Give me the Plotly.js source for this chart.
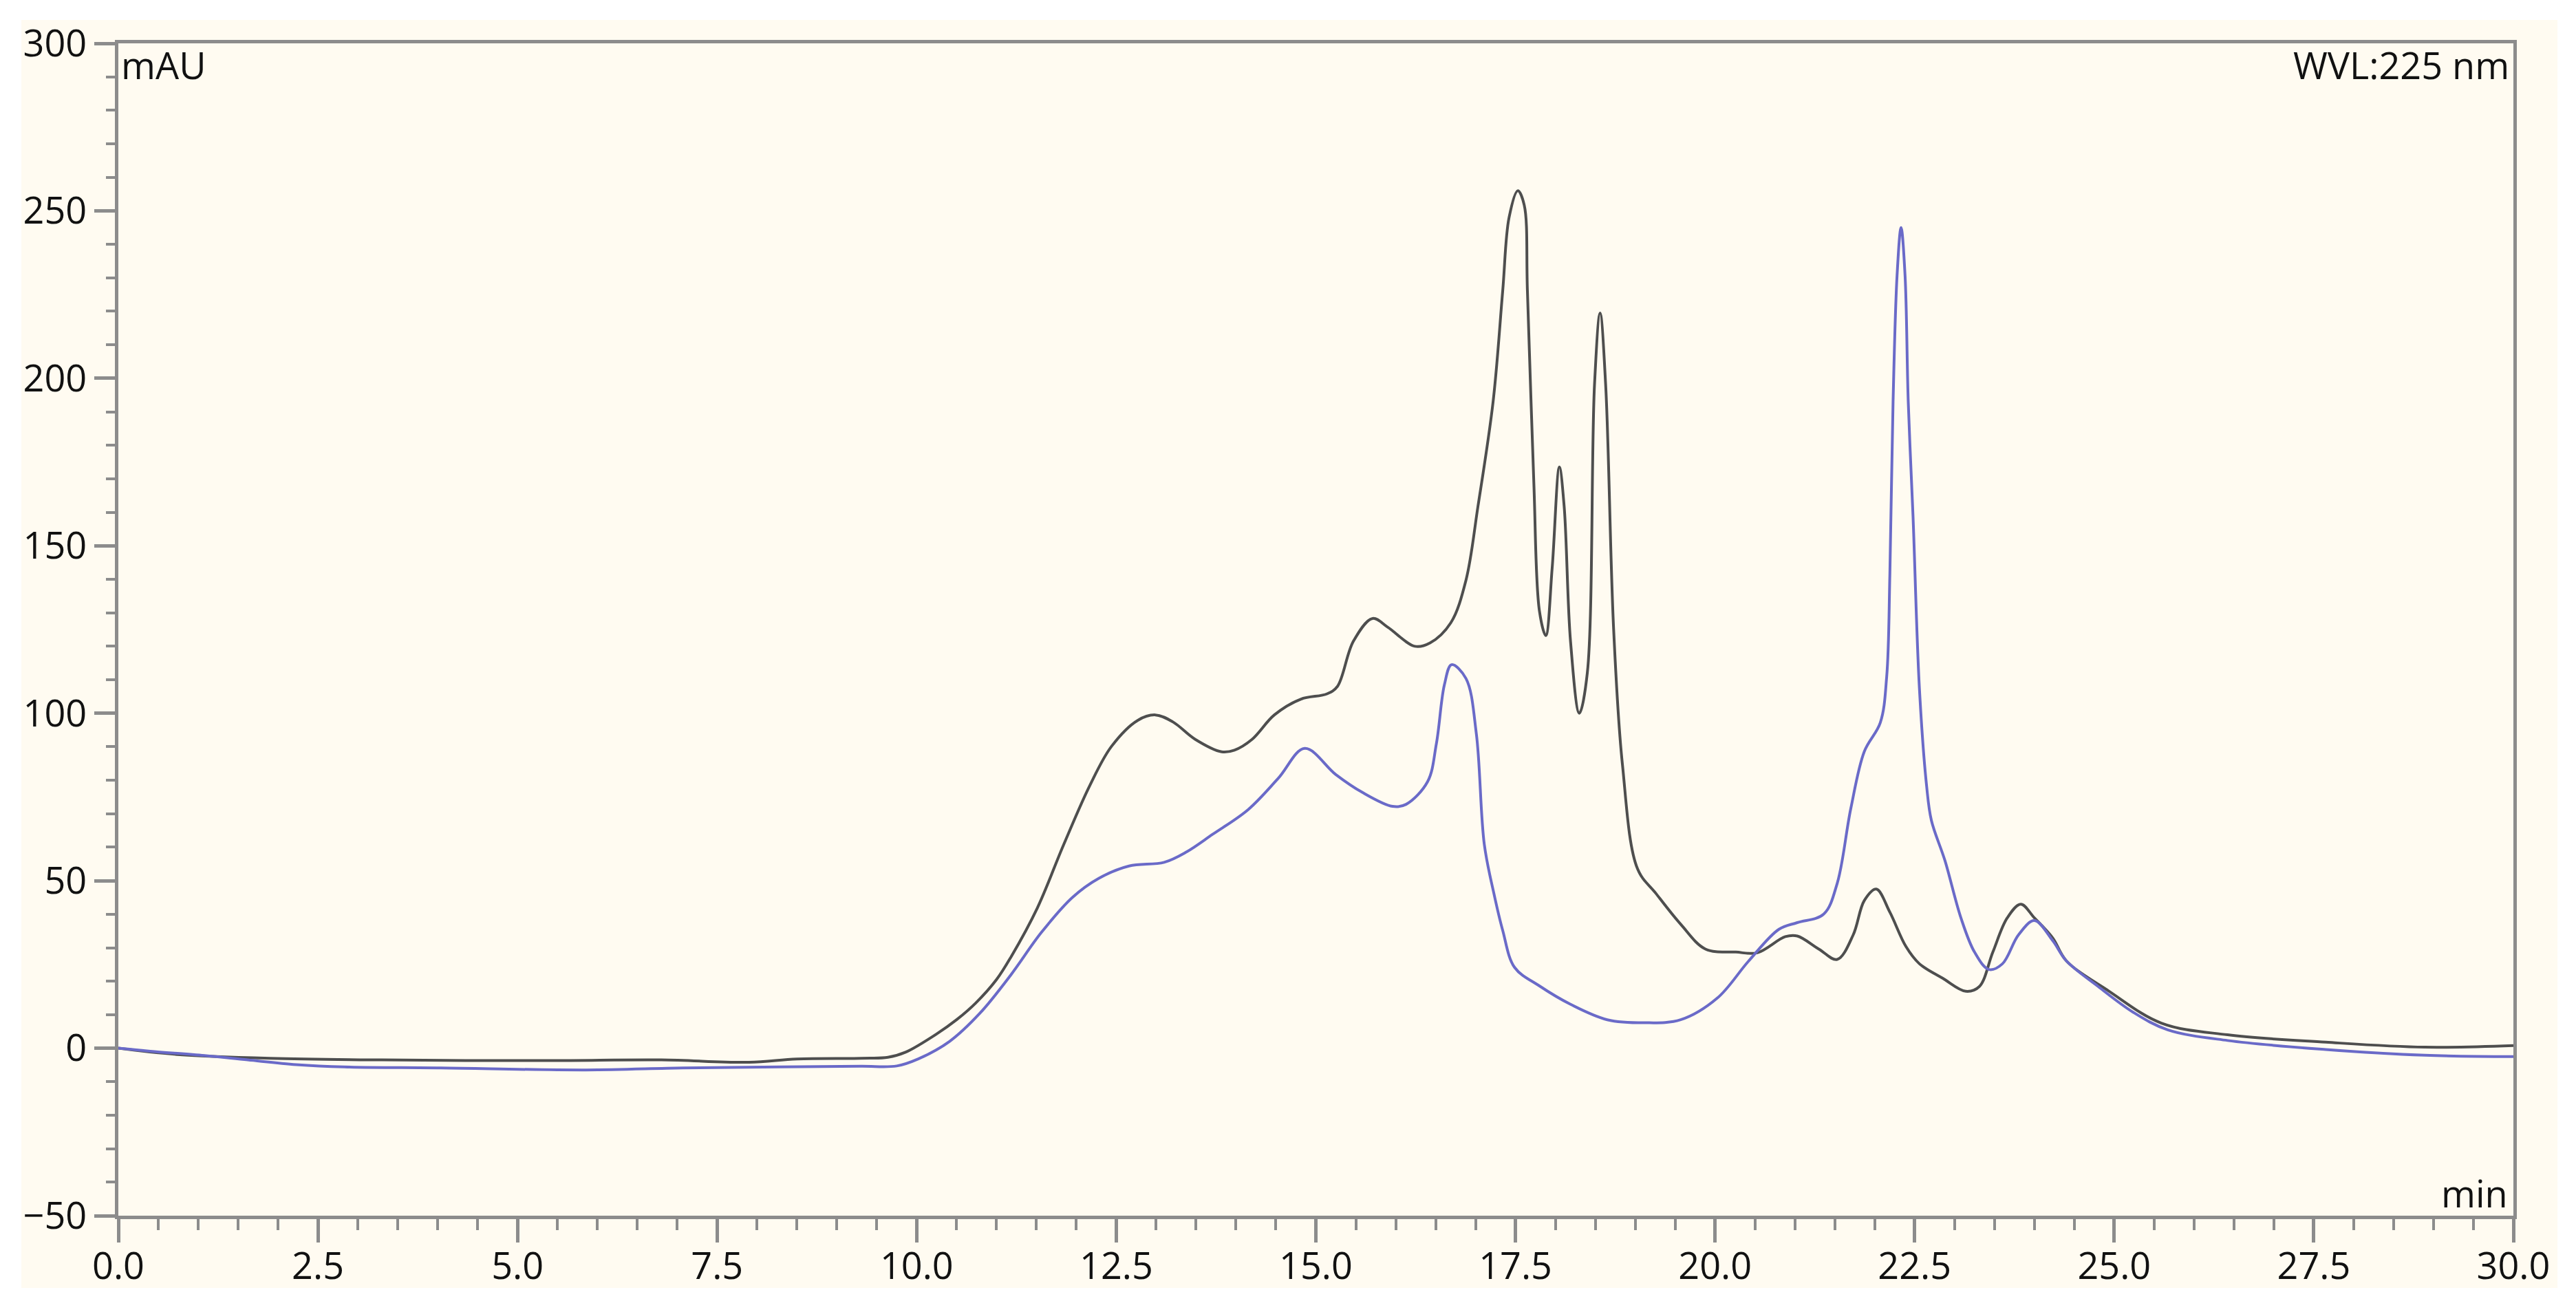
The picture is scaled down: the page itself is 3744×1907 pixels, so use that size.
<!DOCTYPE html>
<html>
<head>
<meta charset="utf-8">
<script src="https://cdn.plot.ly/plotly-3.0.1.min.js"></script>
<style>
  html, body { margin: 0; padding: 0; background: #ffffff; }
  #bg { position: absolute; left: 31px; top: 29px; width: 3686px; height: 1843px; background: #fffbf1; }
  #chart { position: absolute; left: 0; top: 0; width: 3744px; height: 1907px; }
</style>
</head>
<body>
<div id="bg"></div>
<div id="chart"></div>
<script>
// Chromatogram 1 (dark trace): retention time (min) and absorbance (mAU)
const timeDark = [0, 0.7, 1.9, 3.3, 5.4, 6.8, 7.9, 8.5, 9.3, 9.64, 9.86, 10.24, 10.5, 10.74, 11.0, 11.18, 11.51, 11.84, 12.17, 12.44, 12.77, 12.99, 13.21, 13.49, 13.82, 13.98, 14.2, 14.48, 14.81, 15.14, 15.27, 15.47, 15.71, 15.9, 16.24, 16.43, 16.69, 16.88, 17.03, 17.22, 17.34, 17.42, 17.53, 17.61, 17.65, 17.73, 17.8, 17.88, 17.96, 18.05, 18.11, 18.19, 18.3, 18.4, 18.49, 18.56, 18.63, 18.73, 18.84, 19.03, 19.26, 19.57, 19.88, 20.26, 20.53, 20.88, 21.03, 21.3, 21.53, 21.73, 21.87, 22.02, 22.19, 22.39, 22.56, 22.85, 23.14, 23.31, 23.48, 23.66, 23.83, 24.0, 24.23, 24.4, 24.93, 25.59, 26.42, 27.65, 28.89, 30];
const absDark = [0, -1.8, -3, -3.5, -3.7, -3.5, -4.2, -3.2, -3, -2.7, -1.2, 4.1, 8.5, 13.5, 20.5, 27.2, 41.8, 60.7, 78.5, 90.1, 97.9, 99.5, 97.4, 92.2, 88.5, 89.0, 92.2, 99.5, 104.2, 105.8, 108, 121.5, 128.3, 125.7, 120, 121, 127, 139.7, 161.7, 193, 226, 248, 256, 251.7, 226, 169, 130.6, 123.2, 143.4, 173.5, 161.8, 121.4, 100, 112, 198, 219.5, 198, 125, 84.7, 53.5, 46.2, 37, 29.6, 28.7, 28.5, 33.3, 33.5, 29.6, 26.5, 33.8, 44.1, 47.5, 40.6, 30.4, 25.2, 20.9, 17, 18.4, 28.7, 38.9, 43, 38.9, 32.9, 26.1, 17.1, 7.5, 4.0, 1.8, 0.3, 0.8];

// Chromatogram 2 (blue trace)
const timeBlue = [0, 0.4, 1.08, 1.62, 2.23, 2.83, 4.04, 5.86, 7.07, 8.28, 9.3, 9.75, 10.02, 10.41, 10.79, 11.18, 11.56, 11.95, 12.28, 12.66, 13.1, 13.38, 13.71, 14.15, 14.53, 14.86, 15.25, 15.58, 15.96, 16.13, 16.4, 16.51, 16.61, 16.7, 16.88, 17.01, 17.11, 17.23, 17.34, 17.49, 17.8, 18.19, 18.65, 19.11, 19.57, 20.03, 20.42, 20.8, 21.03, 21.36, 21.53, 21.7, 21.87, 22.07, 22.15, 22.19, 22.23, 22.28, 22.33, 22.38, 22.42, 22.48, 22.56, 22.65, 22.71, 22.88, 23.08, 23.25, 23.43, 23.6, 23.8, 24.0, 24.23, 24.4, 24.8, 25.24, 25.67, 26.42, 27.65, 28.89, 30];
const absBlue = [0, -0.9, -2.2, -3.5, -4.9, -5.6, -5.9, -6.5, -5.9, -5.6, -5.4, -5.3, -3.2, 2, 10.4, 21.9, 34.5, 45, 50.7, 54.4, 55.5, 58.6, 63.9, 71.2, 80.6, 89.5, 81.7, 76.4, 72.2, 72.8, 79.6, 91, 108.5, 114.5, 110.4, 93.9, 60.8, 46.2, 35.2, 24.1, 18.6, 13.1, 8.5, 7.6, 8.5, 15, 26, 35.5, 37.5, 40, 49.2, 71.5, 88.6, 97.2, 110.9, 141.7, 193, 230.7, 245, 230.7, 193, 158.8, 107.4, 78.3, 68, 56, 38.9, 28.7, 23.5, 25.2, 33.8, 38.1, 32.1, 26.1, 18.4, 10.7, 5.5, 2.3, -0.4, -2.1, -2.5];

const xTickVals = [0, 2.5, 5, 7.5, 10, 12.5, 15, 17.5, 20, 22.5, 25, 27.5, 30];
const xTickText = ['0.0', '2.5', '5.0', '7.5', '10.0', '12.5', '15.0', '17.5', '20.0', '22.5', '25.0', '27.5', '30.0'];
const yTickVals = [-50, 0, 50, 100, 150, 200, 250, 300];

const axisGray = '#8c8c8c';
const fontFam = '"Open Sans", "Liberation Sans", sans-serif';

const traces = [
  { x: timeDark, y: absDark, type: 'scatter', mode: 'lines', name: 'sample 1',
    line: { color: '#4e4e4e', width: 4, shape: 'spline', smoothing: 1 } },
  { x: timeBlue, y: absBlue, type: 'scatter', mode: 'lines', name: 'sample 2',
    line: { color: '#6a6ac8', width: 4, shape: 'spline', smoothing: 1 } }
];

const layout = {
  width: 3744, height: 1907,
  paper_bgcolor: 'rgba(0,0,0,0)', plot_bgcolor: 'rgba(0,0,0,0)',
  margin: { l: 172, r: 91, t: 63, b: 140 },
  showlegend: false,
  font: { family: fontFam, size: 54, color: '#111111' },
  xaxis: {
    range: [0, 30], tickvals: xTickVals, ticktext: xTickText,
    showgrid: false, zeroline: false,
    showline: true, linecolor: axisGray, linewidth: 5, mirror: true,
    ticks: 'outside', ticklen: 34, tickwidth: 5, tickcolor: axisGray,
    ticklabelstandoff: -12,
    minor: { dtick: 0.5, tick0: 0, ticks: 'outside', ticklen: 16, tickwidth: 4, tickcolor: axisGray, showgrid: false },
    tickfont: { family: fontFam, size: 54, color: '#111111' }
  },
  yaxis: {
    range: [-50, 300], tickvals: yTickVals,
    showgrid: false, zeroline: false,
    showline: true, linecolor: axisGray, linewidth: 5, mirror: true,
    ticks: 'outside', ticklen: 30, tickwidth: 5, tickcolor: axisGray,
    minor: { dtick: 10, tick0: 0, ticks: 'outside', ticklen: 13, tickwidth: 4, tickcolor: axisGray, showgrid: false },
    tickfont: { family: fontFam, size: 54, color: '#111111' }
  },
  annotations: [
    { text: 'mAU', xref: 'paper', yref: 'paper', x: 0, y: 1, xanchor: 'left', yanchor: 'top',
      showarrow: false, xshift: 2, yshift: 8, font: { family: fontFam, size: 54, color: '#111111' } },
    { text: 'WVL:225 nm', xref: 'paper', yref: 'paper', x: 1, y: 1, xanchor: 'right', yanchor: 'top',
      showarrow: false, xshift: -4, yshift: 8, font: { family: fontFam, size: 54, color: '#111111' } },
    { text: 'min', xref: 'paper', yref: 'paper', x: 1, y: 0, xanchor: 'right', yanchor: 'bottom',
      showarrow: false, xshift: -6, yshift: -6, font: { family: fontFam, size: 54, color: '#111111' } }
  ]
};

Plotly.newPlot('chart', traces, layout, { staticPlot: true, displayModeBar: false });
</script>
</body>
</html>
